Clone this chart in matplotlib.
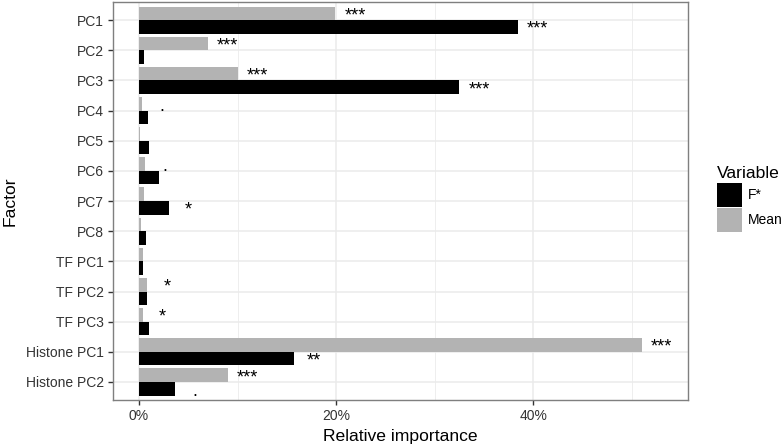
import numpy as np
import matplotlib
matplotlib.use("Agg")
import matplotlib.pyplot as plt
from matplotlib.patches import Patch

plt.rcParams['font.family'] = ['Liberation Sans', 'DejaVu Sans']

factors = ["PC1", "PC2", "PC3", "PC4", "PC5", "PC6", "PC7", "PC8",
           "TF PC1", "TF PC2", "TF PC3", "Histone PC1", "Histone PC2"]
# relative importance in %
fstar = [38.4, 0.5, 32.5, 0.9, 1.0, 2.0, 3.05, 0.7, 0.42, 0.83, 1.0, 15.7, 3.67]
mean = [19.9, 7.0, 10.0, 0.3, 0.15, 0.65, 0.55, 0.25, 0.42, 0.83, 0.39, 51.0, 9.0]
fstar_sig = ["***", "", "***", "", "", "", "*", "", "", "", "", "**", "."]
mean_sig = ["***", "***", "***", ".", "", ".", "", "", "", "*", "*", "***", "***"]

black = "#000000"
grey = "#b3b3b3"

fig = plt.figure(figsize=(7.83, 4.46), dpi=100)
ax = fig.add_axes([0.144, 0.103, 0.735, 0.8925])

y = np.arange(len(factors))
w = 0.45
ax.barh(y + w / 2, fstar, height=w, color=black, zorder=3)
ax.barh(y - w / 2, mean, height=w, color=grey, zorder=3)

off = 2.0
for i in range(len(factors)):
    if fstar_sig[i]:
        ax.text(fstar[i] + off, y[i] + w / 2 + 0.08, fstar_sig[i], ha='center', va='center',
                fontsize=13, color=black, zorder=4)
    if mean_sig[i]:
        ax.text(mean[i] + off, y[i] - w / 2 + 0.08, mean_sig[i], ha='center', va='center',
                fontsize=13, color=black, zorder=4)

ax.set_ylim(len(factors) - 0.4, -0.6)
ax.set_xlim(-2.65, 55.7)
ax.set_yticks(y)
ax.set_yticklabels(factors)
ax.set_xticks([0, 20, 40])
ax.set_xticklabels(["0%", "20%", "40%"])
ax.set_xticks([10, 30, 50], minor=True)

ax.grid(True, which='major', color='#ebebeb', linewidth=1.1, zorder=0)
ax.grid(True, which='minor', axis='x', color='#ebebeb', linewidth=0.6, zorder=0)
ax.set_axisbelow(True)
for s in ax.spines.values():
    s.set_color('#7f7f7f')
    s.set_linewidth(1.0)
ax.tick_params(axis='both', which='major', length=3.5, width=1, color='#333333',
               labelsize=10, labelcolor='#333333', pad=3)
ax.tick_params(axis='x', which='minor', length=0)

ax.set_xlabel("Relative importance", fontsize=12.6, labelpad=4)
ax.set_ylabel("Factor", fontsize=12.6, labelpad=6)

handles = [Patch(facecolor=black, edgecolor='none', label="F*"),
           Patch(facecolor=grey, edgecolor='none', label="Mean")]
leg = fig.legend(handles=handles, title="Variable", loc='upper left',
                 bbox_to_anchor=(0.909, 0.64), frameon=False, fontsize=10,
                 title_fontsize=12.6, handlelength=1.75, handleheight=2.3,
                 handletextpad=0.45, labelspacing=0.1, borderaxespad=0)
leg._legend_box.align = "left"

fig.savefig("out.png", dpi=100)
